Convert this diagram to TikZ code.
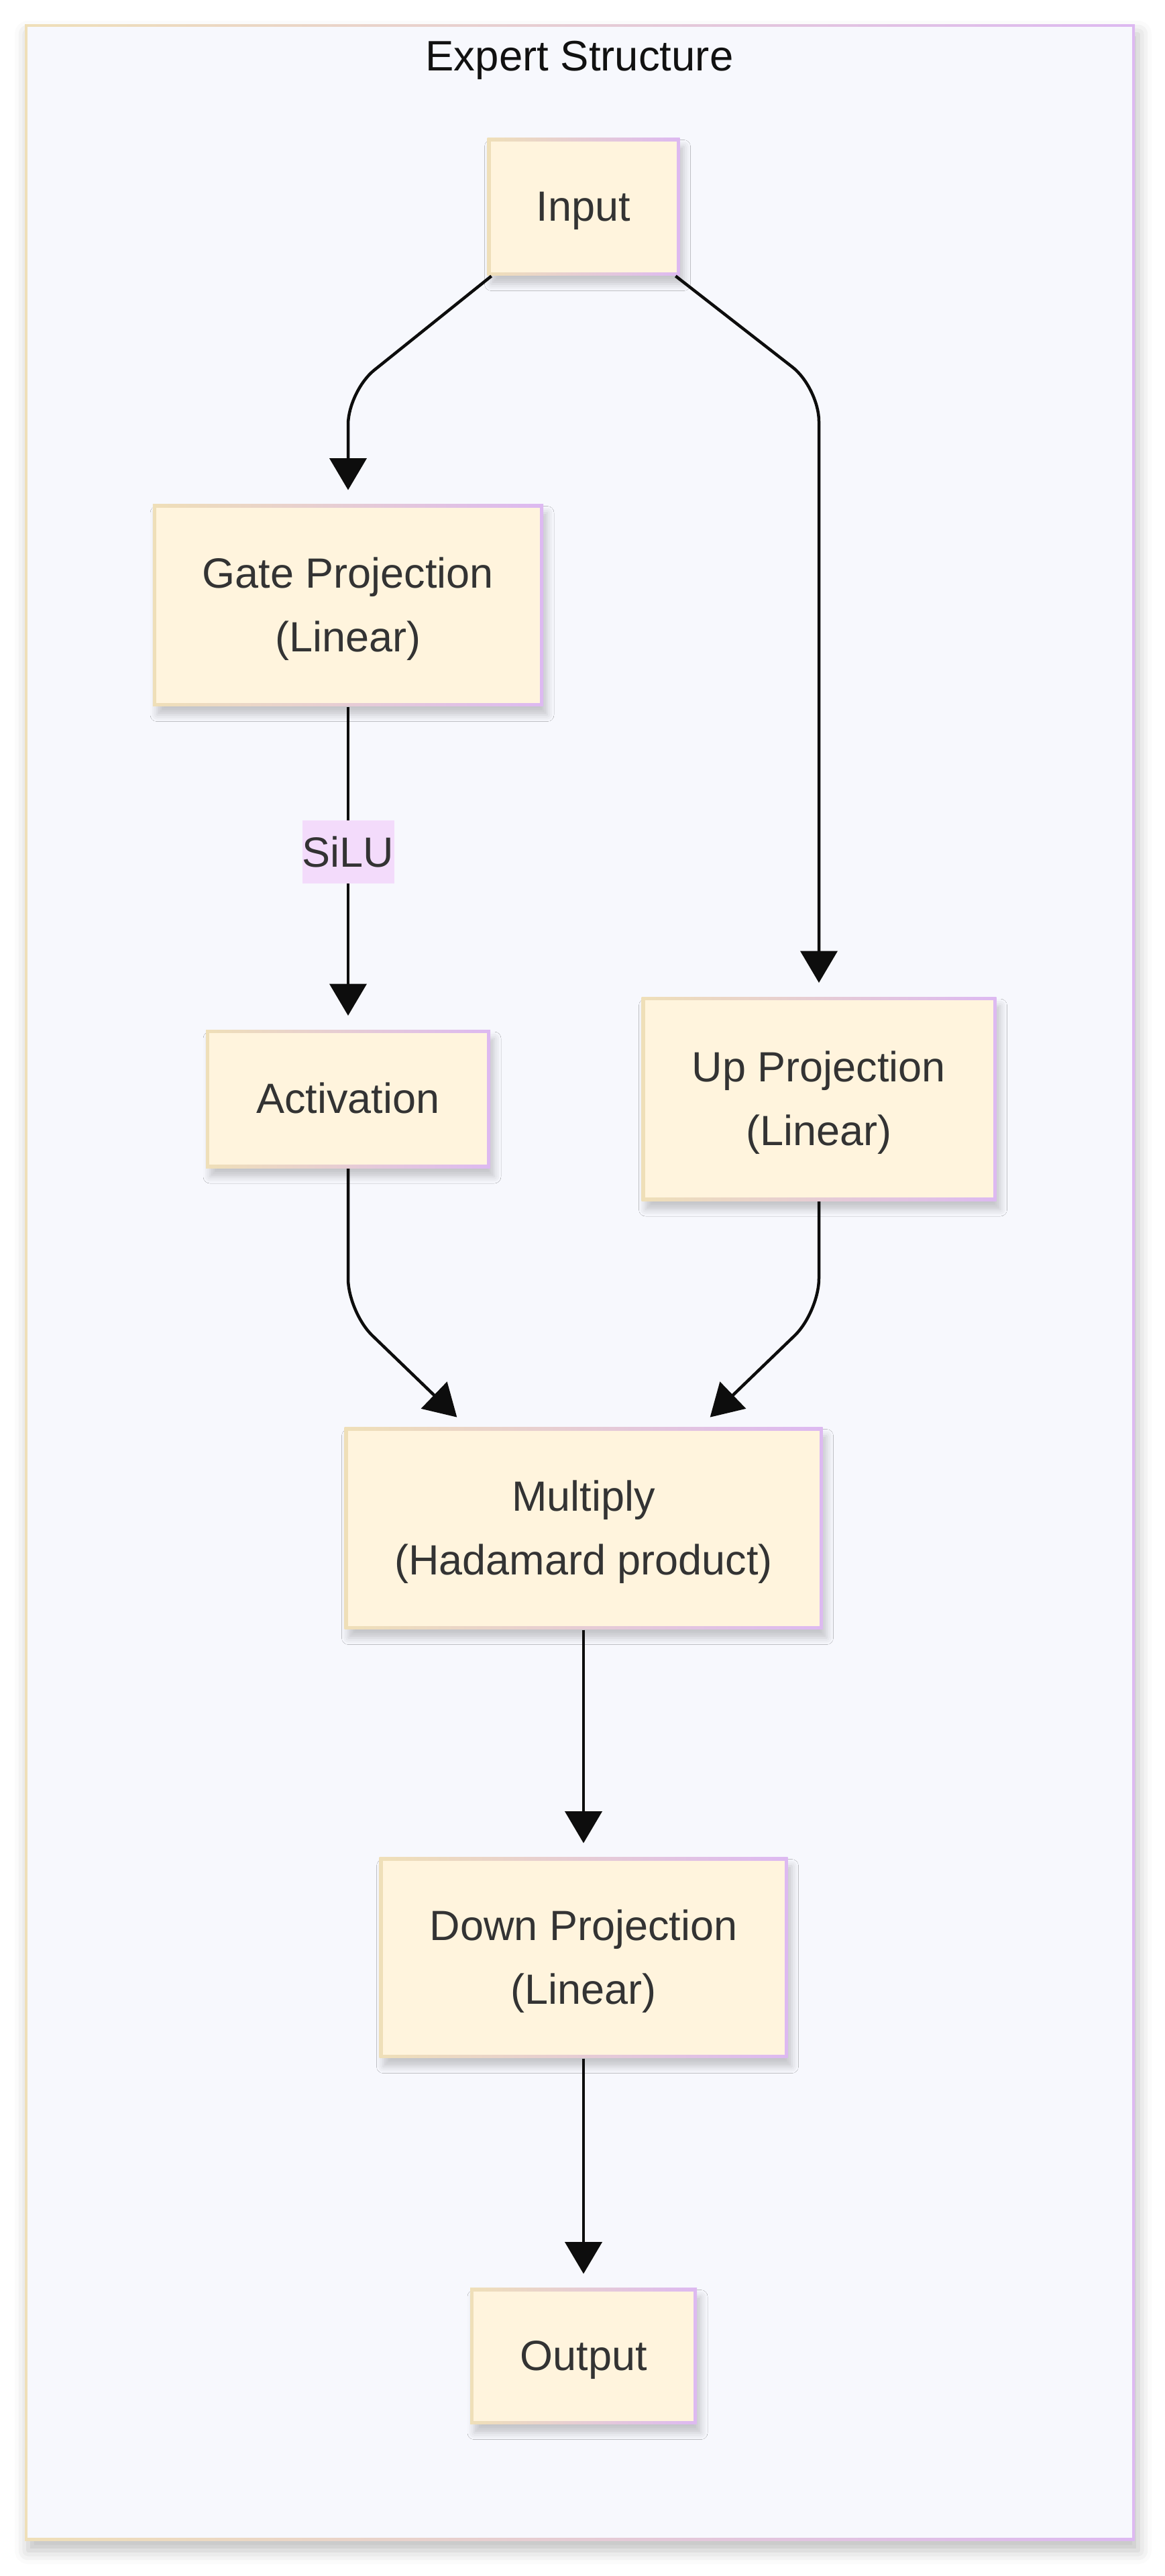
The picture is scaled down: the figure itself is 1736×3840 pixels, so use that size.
\documentclass[tikz,border=0pt]{standalone}
\usepackage{fontspec}
\setmainfont{Liberation Sans}
\usetikzlibrary{arrows.meta,shadows.blur}

\definecolor{framefill}{HTML}{F7F8FD}
\definecolor{boxfill}{HTML}{FFF4DD}
\definecolor{edgeL}{HTML}{EFDFB8}
\definecolor{edgeR}{HTML}{DDB9F1}
\definecolor{labelfill}{HTML}{F3DBFB}
\definecolor{ink}{HTML}{333333}
\definecolor{titleink}{HTML}{111111}
\definecolor{flowink}{HTML}{0D0D0D}

\newcommand{\linestrut}{\rule[-2.67pt]{0pt}{14.07pt}}
\newcommand{\tallstrut}{\rule{0pt}{11.3pt}}

\tikzset{
	box/.style={shape=rectangle, inner sep=0pt, left color=edgeL, right color=edgeR,
		blur shadow={shadow xshift=1.2pt, shadow yshift=-2.6pt, shadow blur radius=2pt, shadow opacity=20},
		path picture={\fill[boxfill] ([shift={(1pt,1pt)}]path picture bounding box.south west) rectangle ([shift={(-1pt,-1pt)}]path picture bounding box.north east);},
		text=ink, align=center, font=\fontsize{12.6}{19}\selectfont, execute at begin node=\linestrut},
	flow/.style={draw=flowink, line width=0.9pt, shorten >=4pt, -{Triangle[length=9.5pt,width=11pt]}},
	edgelabel/.style={fill=labelfill, text=ink, inner sep=0pt, minimum width=27.4pt, minimum height=18.8pt, font=\fontsize{12.6}{15}\selectfont}
}

\begin{document}
\begin{tikzpicture}[x=0.2pt, y=-0.2pt]
	\useasboundingbox (0,0) rectangle (1736,3840);
	% frame
	\path [blur shadow={shadow xshift=1pt, shadow yshift=-3pt, shadow blur radius=4pt, shadow opacity=25}, left color=edgeL, right color=edgeR] (37,36) rectangle (1692,3787);
	\fill [framefill] (41,40) rectangle (1688,3783);
	\node (title) at (864,84) [text=titleink, font=\fontsize{12.7}{15}\selectfont] {\linestrut Expert Structure};

	\node [box, minimum width=57.4pt, minimum height=41pt] (input) at (870,308) {Input};
	\node [box, minimum width=116.4pt, minimum height=60.2pt] (gate) at (519,902) {\tallstrut Gate Projection\\(Linear)};
	\node [box, minimum width=84.8pt, minimum height=41.2pt] (activation) at (519,1638) {Activation};
	\node [box, minimum width=105.8pt, minimum height=60.8pt] (up) at (1221,1638) {\tallstrut Up Projection\\(Linear)};
	\node [box, minimum width=142.6pt, minimum height=60.2pt] (multiply) at (870,2278) {\tallstrut Multiply\\(Hadamard product)};
	\node [box, minimum width=121.8pt, minimum height=59.8pt] (down) at (870,2918) {\tallstrut Down Projection\\(Linear)};
	\node [box, minimum width=67.6pt, minimum height=40.6pt] (output) at (870,3512) {Output};

	\coordinate (gatebend) at (519,583);
	\coordinate (upbend) at (1221,578);
	\coordinate (actbend) at (519,1956);
	\coordinate (mulbend) at (1221,1956);

	\draw [flow, rounded corners=10pt] (input.217) -- (gatebend) -- (gate.north);
	\draw [flow, rounded corners=10pt] (input.323) -- (upbend) -- (up.north);
	\draw [flow] (gate.south) -- node [edgelabel, pos=0.45] (silu) {SiLU} (activation.north);
	\draw [flow, rounded corners=10pt] (activation.south) -- (actbend) -- (multiply.139);
	\draw [flow, rounded corners=10pt] (up.south) -- (mulbend) -- (multiply.41);
	\draw [flow] (multiply.south) -- (down.north);
	\draw [flow] (down.south) -- (output.north);
\end{tikzpicture}
\end{document}
